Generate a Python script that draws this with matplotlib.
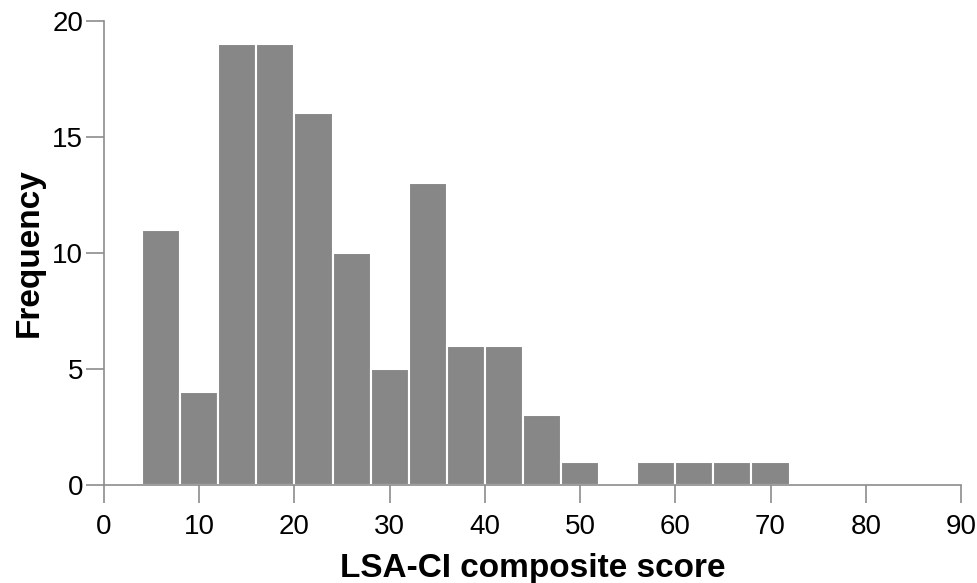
#!/usr/bin/env python3
"""LSA-CI composite score histogram"""

import numpy as np
import matplotlib
matplotlib.use('Agg')
import matplotlib.pyplot as plt

plt.rcParams['font.family'] = ['Liberation Sans', 'DejaVu Sans']

# Histogram data (bin width 4)
bin_edges = [4, 8, 12, 16, 20, 24, 28, 32, 36, 40, 44, 48, 52, 56, 60, 64, 68, 72]
counts = [11, 4, 19, 19, 16, 10, 5, 13, 6, 6, 3, 1, 0, 1, 1, 1, 1]
x_ticks = [0, 10, 20, 30, 40, 50, 60, 70, 80, 90]
y_ticks = [0, 5, 10, 15, 20]

fig = plt.figure(figsize=(9.78, 5.83), dpi=100)
ax = fig.add_axes([0.1063, 0.168, 0.8763, 0.7968])

ax.hist(bin_edges[:-1], bins=bin_edges, weights=counts,
        color='#878787', edgecolor='white', linewidth=1.5)

ax.set_xlim(0, 90)
ax.set_ylim(0, 20)
ax.set_xticks(x_ticks)
ax.set_yticks(y_ticks)

for side in ['top', 'right']:
    ax.spines[side].set_visible(False)
for side in ['left', 'bottom']:
    ax.spines[side].set_color('#8c8c8c')
    ax.spines[side].set_linewidth(1.2)

ax.tick_params(axis='both', direction='out', length=13, width=1.2,
               color='#8c8c8c', labelsize=20)
ax.tick_params(axis='x', pad=8)
ax.tick_params(axis='y', pad=2)

ax.set_xlabel('LSA-CI composite score', fontsize=24, fontweight='bold', labelpad=9)
ax.set_ylabel('Frequency', fontsize=24, fontweight='bold', labelpad=5)

fig.savefig('out.png', dpi=100)
plt.close(fig)
